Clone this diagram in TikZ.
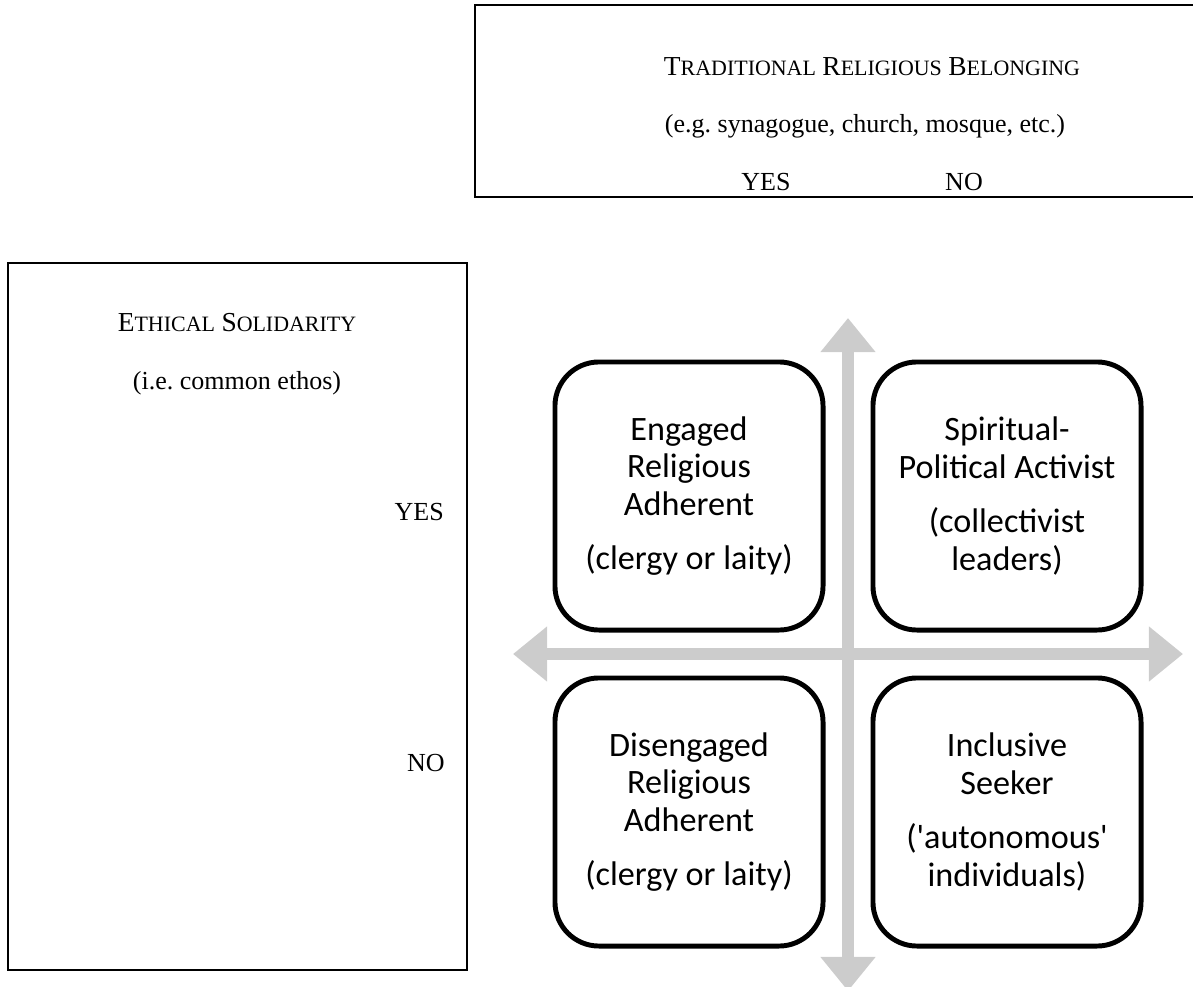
\documentclass[tikz,border=0pt]{standalone}
\usepackage{fontspec}
\setmainfont{Liberation Serif}
\newfontfamily\calibri{Carlito}
\usetikzlibrary{arrows.meta}
\definecolor{axisgray}{RGB}{204,204,204}
\newcommand{\capword}[2]{{\fontsize{19.5pt}{22pt}\selectfont#1}{\fontsize{15.6pt}{18pt}\selectfont #2}}
\frenchspacing

\begin{document}
\begin{tikzpicture}[x=0.025cm,y=-0.025cm,
    frame/.style={draw=black,line width=1.4pt},
    label/.style={font=\fontsize{18.5pt}{22pt}\selectfont,inner sep=0pt},
    quad/.style={draw=black,fill=white,line width=3.5pt,rounded corners=1.1cm,
      minimum width=6.7cm,minimum height=6.7cm,align=center,
      font=\calibri\fontsize{24.3pt}{26.7pt}\selectfont},
    axis/.style={draw=axisgray,line width=0.3cm,
      {Triangle[width=1.32cm,length=0.85cm]}-{Triangle[width=1.32cm,length=0.85cm]}}]
  \clip (0,0) rectangle (1193,987);
  % header boxes
  \draw[frame] (475,5) rectangle (1275,197);
  \node[label] (belong) at (872,67) {\capword{T}{RADITIONAL} \capword{R}{ELIGIOUS} \capword{B}{ELONGING}};
  \node[label] (belongeg) at (865,126) {(e.g. synagogue, church, mosque, etc.)};
  \node[label] (belongyes) at (766,182) {YES};
  \node[label] (belongno) at (964,182) {NO};
  \draw[frame] (8,263) rectangle (467,970);
  \node[label] (ethic) at (237,323) {\capword{E}{THICAL} \capword{S}{OLIDARITY}};
  \node[label] (ethiceg) at (237,383) {(i.e. common ethos)};
  \node[label,anchor=east] (ethicyes) at (444,512) {YES};
  \node[label,anchor=east] (ethicno) at (445,763) {NO};
  % axes
  \coordinate (up) at (848,318);
  \coordinate (down) at (848,991);
  \coordinate (left) at (513,654);
  \coordinate (right) at (1183,654);
  \draw[axis] (down) -- (up);
  \draw[axis] (left) -- (right);
  % quadrants
  \node[quad] (engaged) at (689,496) {Engaged\\Religious\\Adherent\\[12pt](clergy or laity)};
  \node[quad] (activist) at (1007,496) {Spiritual-\\Political Activist\\[12pt](collectivist\\leaders)};
  \node[quad] (disengaged) at (689,812) {Disengaged\\Religious\\Adherent\\[12pt](clergy or laity)};
  \node[quad] (seeker) at (1007,812) {Inclusive\\Seeker\\[12pt]('autonomous'\\individuals)};
\end{tikzpicture}
\end{document}
